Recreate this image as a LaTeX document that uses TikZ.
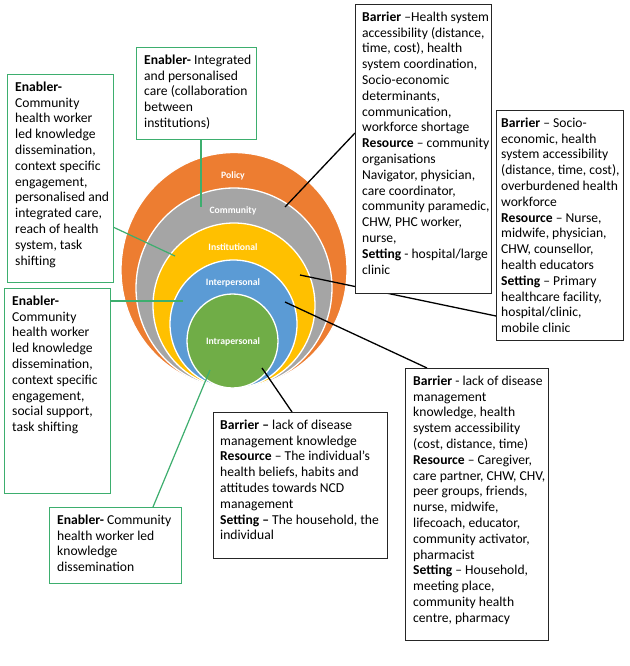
\documentclass[tikz,border=0pt]{standalone}
\usepackage{fontspec}
\setmainfont{Carlito}
\definecolor{cPol}{HTML}{ED7D31}
\definecolor{cCom}{HTML}{A5A5A5}
\definecolor{cIns}{HTML}{FFC000}
\definecolor{cInt}{HTML}{5B9BD5}
\definecolor{cIntra}{HTML}{70AD47}
\definecolor{gline}{HTML}{3DAE6E}
\begin{document}
\begin{tikzpicture}[x=1pt,y=-1pt,
  ring/.style={draw=white, line width=1.3pt},
  lbl/.style={text=white, inner sep=0pt, font=\bfseries\fontsize{9.7}{11}\selectfont},
  gbox/.style={draw=gline, fill=white, line width=1.2pt, anchor=north west, inner sep=0pt},
  kbox/.style={draw=black!85, fill=white, line width=0.9pt, anchor=north west, inner sep=0pt},
  txt/.style={anchor=north west, inner sep=0pt, align=left, font=\fontsize{13.6}{15.8}\selectfont},
  gcon/.style={draw=gline, line width=1.2pt},
  kcon/.style={draw=black, line width=1.3pt}]
\useasboundingbox (0,0) rectangle (629,666);
\fill[white] (0,0) rectangle (629,666);

% nested ellipses
\draw[ring, fill=cPol]   (234,270)   ellipse [x radius=113pt,  y radius=117.5pt];
\draw[ring, fill=cCom]   (234,288)   ellipse [x radius=98pt,   y radius=100pt];
\draw[ring, fill=cIns]   (234,305.5) ellipse [x radius=81pt,   y radius=82.5pt];
\draw[ring, fill=cInt]   (233.5,324) ellipse [x radius=63.5pt, y radius=64pt];
\draw[ring, fill=cIntra] (232.5,341) ellipse [x radius=45.5pt, y radius=47pt];

\node[lbl] (lPol)   at (233,176) {Policy};
\node[lbl] (lCom)   at (233,211) {Community};
\node[lbl] (lIns)   at (233,247) {Institutional};
\node[lbl] (lInt)   at (233,283) {Interpersonal};
\node[lbl] (lIntra) at (233,342) {Intrapersonal};

% connector end points
\coordinate (eA) at (175,256);  \coordinate (sA) at (113,227);
\coordinate (eB) at (201,207);  \coordinate (sB) at (201,139);
\coordinate (eC) at (285,207);  \coordinate (sC) at (355,133);
\coordinate (eD) at (300,275);  \coordinate (sD) at (496,316);
\coordinate (eE) at (183,301);  \coordinate (sE) at (110,301);
\coordinate (eF) at (262,368);  \coordinate (sF) at (292,412);
\coordinate (eG) at (285,302);  \coordinate (sG) at (427,368);
\coordinate (eH) at (210,370);  \coordinate (sH) at (153,507);

\draw[gcon] (sA) -- (eA);
\draw[gcon] (sB) -- (eB);
\draw[kcon] (sC) -- (eC);
\draw[kcon] (sD) -- (eD);
\draw[gcon] (sE) -- (eE);
\draw[kcon] (sF) -- (eF);
\draw[kcon] (sG) -- (eG);
\draw[gcon] (sH) -- (eH);

% boxes
\node[gbox, minimum width=106pt, minimum height=208pt] (A) at (7,74) {};
\node[gbox, minimum width=120pt, minimum height=92pt]  (B) at (136,47) {};
\node[kbox, minimum width=136pt, minimum height=289pt] (C) at (355,4) {};
\node[kbox, minimum width=127pt, minimum height=230pt] (D) at (496,110) {};
\node[gbox, minimum width=106pt, minimum height=205pt] (E) at (4,288) {};
\node[kbox, minimum width=174pt, minimum height=146pt] (F) at (213,412) {};
\node[kbox, minimum width=143pt, minimum height=272pt] (G) at (405,368) {};
\node[gbox, minimum width=132pt, minimum height=76pt]  (H) at (49,507) {};

% texts
\node[txt] (tA) at (15,80) {\strut\textbf{Enabler-}\\Community\\health worker\\led knowledge\\dissemination,\\context specific\\engagement,\\personalised and\\integrated care,\\reach of health\\system, task\\shifting};
\node[txt] (tB) at (144,53) {\strut\textbf{Enabler-} Integrated\\and personalised\\care (collaboration\\between\\institutions)};
\node[txt] (tC) at (362,10) {\strut\textbf{Barrier} –Health system\\accessibility (distance,\\time, cost), health\\system coordination,\\Socio-economic\\determinants,\\communication,\\workforce shortage\\\textbf{Resource} – community\\organisations\\Navigator, physician,\\care coordinator,\\community paramedic,\\CHW, PHC worker,\\nurse,\\\textbf{Setting} - hospital/large\\clinic};
\node[txt] (tD) at (501,116) {\strut\textbf{Barrier} – Socio-\\economic, health\\system accessibility\\(distance, time, cost),\\overburdened health\\workforce\\\textbf{Resource} – Nurse,\\midwife, physician,\\CHW, counsellor,\\health educators\\\textbf{Setting} – Primary\\healthcare facility,\\hospital/clinic,\\mobile clinic};
\node[txt] (tE) at (12,294) {\strut\textbf{Enabler-}\\Community\\health worker\\led knowledge\\dissemination,\\context specific\\engagement,\\social support,\\task shifting};
\node[txt] (tF) at (220,418) {\strut\textbf{Barrier –} lack of disease\\management knowledge\\\textbf{Resource} – The individual’s\\health beliefs, habits and\\attitudes towards NCD\\management\\\textbf{Setting –} The household, the\\individual};
\node[txt] (tG) at (413,374) {\strut\textbf{Barrier} - lack of disease\\management\\knowledge, health\\system accessibility\\(cost, distance, time)\\\textbf{Resource} – Caregiver,\\care partner, CHW, CHV,\\peer groups, friends,\\nurse, midwife,\\lifecoach, educator,\\community activator,\\pharmacist\\\textbf{Setting} – Household,\\meeting place,\\community health\\centre, pharmacy};
\node[txt] (tH) at (57,513) {\strut\textbf{Enabler-} Community\\health worker led\\knowledge\\dissemination};
\end{tikzpicture}
\end{document}
